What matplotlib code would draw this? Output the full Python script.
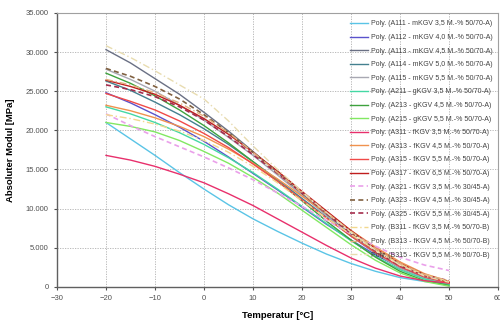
import matplotlib
matplotlib.use("Agg")
import matplotlib.pyplot as plt
from matplotlib.ticker import FuncFormatter, MultipleLocator

plt.rcParams['font.family'] = ['Liberation Sans', 'DejaVu Sans']

# temperature points [°C]
temps = [-20, -15, -10, -5, 0, 5, 10, 15, 20, 25, 30, 35, 40, 45, 50]

# absolute modulus values [MPa]
a111 = [21000, 18900, 16800, 14600, 12500, 10500, 8700, 7100, 5600, 4200, 3000, 2000, 1200, 700, 400]
a112 = [24800, 23500, 22000, 20400, 18600, 16600, 14500, 12400, 10200, 8000, 6000, 4100, 2500, 1300, 500]
a113 = [30300, 28600, 26600, 24600, 22300, 19900, 17300, 14600, 11900, 9200, 6700, 4400, 2500, 1200, 500]
a114 = [26300, 25100, 23600, 22000, 20200, 18200, 16000, 13700, 11300, 8900, 6500, 4300, 2400, 1200, 400]
a115 = [27800, 26500, 25000, 23200, 21300, 19100, 16800, 14300, 11700, 9100, 6600, 4300, 2400, 1100, 400]
a211 = [23000, 22100, 21000, 19700, 18200, 16500, 14600, 12500, 10300, 8100, 5900, 3900, 2200, 1000, 300]
a213 = [27300, 26000, 24400, 22600, 20600, 18400, 16000, 13500, 11000, 8400, 6000, 3800, 2000, 800, 200]
a215 = [21000, 20500, 19800, 18700, 17300, 15800, 14000, 12000, 9800, 7600, 5400, 3400, 1800, 700, 100]
a311 = [16800, 16200, 15400, 14400, 13300, 11900, 10400, 8700, 7000, 5300, 3700, 2400, 1400, 800, 500]
a313 = [23200, 22500, 21600, 20500, 19200, 17600, 15800, 13800, 11600, 9400, 7200, 5100, 3200, 1700, 700]
a315 = [24700, 23700, 22600, 21200, 19600, 17800, 15700, 13500, 11100, 8800, 6500, 4400, 2600, 1300, 500]
a317 = [26400, 25600, 24600, 23200, 21500, 19500, 17200, 14800, 12200, 9700, 7200, 4900, 3000, 1600, 600]
a321 = [22100, 20600, 19200, 17900, 16600, 15200, 13700, 12000, 10300, 8500, 6800, 5200, 3800, 2800, 2100]
a323 = [27900, 26900, 25600, 24000, 22000, 19700, 17200, 14600, 12000, 9400, 7000, 4800, 2900, 1500, 700]
a325 = [25800, 25200, 24300, 23000, 21300, 19200, 16900, 14500, 12000, 9400, 6800, 4600, 2700, 1500, 800]
b311 = [22000, 21500, 20800, 19900, 18700, 17200, 15400, 13300, 11000, 8800, 6700, 4700, 2900, 1600, 700]
b313 = [26500, 25800, 24800, 23500, 21800, 19700, 17200, 14600, 12000, 9500, 7100, 4900, 3000, 1600, 800]
b315 = [30800, 29300, 27600, 25800, 24000, 21200, 18000, 15000, 12200, 9500, 7000, 4700, 2800, 1400, 600]

labels = [
    "Poly. (A111 - mKGV 3,5 M.-% 50/70-A)",
    "Poly. (A112 - mKGV 4,0 M.-% 50/70-A)",
    "Poly. (A113 - mKGV 4,5 M.-% 50/70-A)",
    "Poly. (A114 - mKGV 5,0 M.-% 50/70-A)",
    "Poly. (A115 - mKGV 5,5 M.-% 50/70-A)",
    "Poly. (A211 - gKGV 3,5 M.-% 50/70-A)",
    "Poly. (A213 - gKGV 4,5 M.-% 50/70-A)",
    "Poly. (A215 - gKGV 5,5 M.-% 50/70-A)",
    "Poly. (A311 - fKGV 3,5 M.-% 50/70-A)",
    "Poly. (A313 - fKGV 4,5 M.-% 50/70-A)",
    "Poly. (A315 - fKGV 5,5 M.-% 50/70-A)",
    "Poly. (A317 - fKGV 6,5 M.-% 50/70-A)",
    "Poly. (A321 - fKGV 3,5 M.-% 30/45-A)",
    "Poly. (A323 - fKGV 4,5 M.-% 30/45-A)",
    "Poly. (A325 - fKGV 5,5 M.-% 30/45-A)",
    "Poly. (B311 - fKGV 3,5 M.-% 50/70-B)",
    "Poly. (B313 - fKGV 4,5 M.-% 50/70-B)",
    "Poly. (B315 - fKGV 5,5 M.-% 50/70-B)",
]
series = [a111, a112, a113, a114, a115, a211, a213, a215, a311,
          a313, a315, a317, a321, a323, a325, b311, b313, b315]
colors = ["#5ac4e6", "#5a52cc", "#6a7084", "#44808f", "#a8a8b2", "#44d8a4",
          "#3ea23e", "#82e862", "#e8306c", "#f0924e", "#f04a48", "#c01e1e",
          "#eaa0ea", "#806040", "#a42c4c", "#f2d88e", "#e2b07e", "#e8dcb0"]
styles = ["-"] * 12 + [(0, (3, 2))] * 3 + [(0, (5, 2, 1, 2))] * 3

fig = plt.figure(figsize=(5.0, 3.21), dpi=100)
ax = fig.add_axes([0.114, 0.106, 0.882, 0.854])

for vals, lab, c, ls in zip(series, labels, colors, styles):
    lw = 1.2 if ls == (0, (3, 2)) else 1.0
    ax.plot(temps, vals, color=c, linestyle=ls, linewidth=lw, label=lab)

ax.set_xlim(-30, 60)
ax.set_ylim(0, 35000)
ax.xaxis.set_major_locator(MultipleLocator(10))
ax.yaxis.set_major_locator(MultipleLocator(5000))
ax.yaxis.set_major_formatter(FuncFormatter(lambda v, p: f"{int(v):,}".replace(",", ".")))
ax.grid(True, color="#b0b0b0", linestyle=(0, (1.5, 1.5)), linewidth=0.6)
ax.tick_params(labelsize=5.5, colors="#505050", length=2.5, width=0.8)

for s in ["left", "bottom"]:
    ax.spines[s].set_color("#606060")
    ax.spines[s].set_linewidth(1.0)
for s in ["top", "right"]:
    ax.spines[s].set_color("#a0a0a0")
    ax.spines[s].set_linewidth(0.8)

ax.set_xlabel("Temperatur [°C]", fontsize=6.8, fontweight="bold", labelpad=6)
ax.set_ylabel("Absoluter Modul [MPa]", fontsize=6.8, fontweight="bold", labelpad=8)

leg = ax.legend(loc="upper right", bbox_to_anchor=(1.0, 0.99), fontsize=5,
                frameon=False, handlelength=2.6, handletextpad=0.5,
                labelspacing=0.95, borderaxespad=0.3)
for t in leg.get_texts():
    t.set_color("#404040")

fig.savefig("out.png", dpi=100)
